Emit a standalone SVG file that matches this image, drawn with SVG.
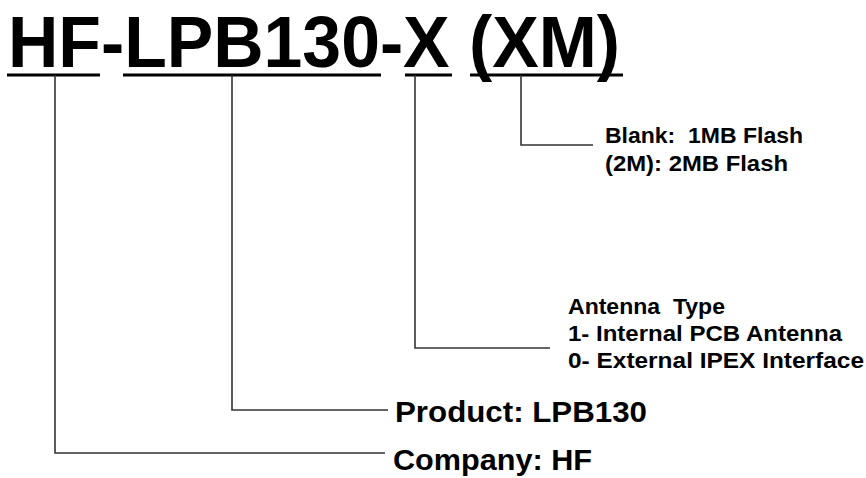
<svg xmlns="http://www.w3.org/2000/svg" width="866" height="478" viewBox="0 0 866 478" xml:space="preserve">
<style>
text{font-family:"Liberation Sans",Arial,sans-serif;font-weight:bold;fill:#000;white-space:pre}
.ul{stroke:#000;stroke-width:3;fill:none}
.ln{stroke:#333;stroke-width:1.6;fill:none}
.s{font-size:22px}
.m{font-size:29px}
</style>
<rect width="866" height="478" fill="#fff"/>
<g id="title">
<text x="8" y="67" font-size="72" textLength="612" lengthAdjust="spacingAndGlyphs">HF-LPB130-X (XM)</text>
<path class="ul" d="M7 75H100M123 75H381M405 75H452M470 75H623"/>
</g>
<g id="connectors">
<path class="ln" d="M55 75V453H385"/>
<path class="ln" d="M232 75V410H388"/>
<path class="ln" d="M415 75V348H550"/>
<path class="ln" d="M521 75V145H593"/>
</g>
<g id="flash">
<text class="s" x="605" y="143" textLength="198" lengthAdjust="spacingAndGlyphs">Blank:  1MB Flash</text>
<text class="s" x="605" y="171" textLength="183" lengthAdjust="spacingAndGlyphs">(2M): 2MB Flash</text>
</g>
<g id="antenna">
<text class="s" x="568" y="314" textLength="157" lengthAdjust="spacingAndGlyphs">Antenna  Type</text>
<text class="s" x="568" y="341" textLength="274" lengthAdjust="spacingAndGlyphs">1- Internal PCB Antenna</text>
<text class="s" x="568" y="368" textLength="296" lengthAdjust="spacingAndGlyphs">0- External IPEX Interface</text>
</g>
<g id="product">
<text class="m" x="395" y="422" textLength="252" lengthAdjust="spacingAndGlyphs">Product: LPB130</text>
</g>
<g id="company">
<text class="m" x="393" y="470" textLength="199" lengthAdjust="spacingAndGlyphs">Company: HF</text>
</g>
</svg>
